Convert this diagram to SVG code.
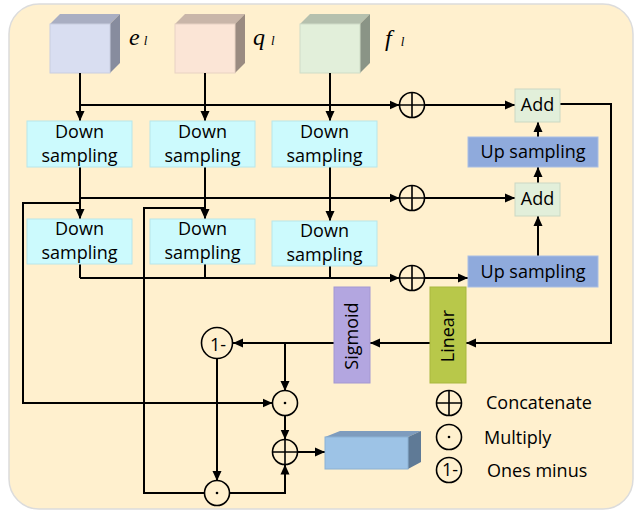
<svg xmlns="http://www.w3.org/2000/svg" width="636" height="512" viewBox="0 0 636 512">
<defs>
<marker id="ah" markerUnits="userSpaceOnUse" markerWidth="10" markerHeight="10" refX="10" refY="5" orient="auto">
<path d="M0,0.5 L10,5 L0,9.5 z" fill="#000"/>
</marker>
<style>
.ln{fill:none;stroke:#000;stroke-width:2}
.ar{fill:none;stroke:#000;stroke-width:2;marker-end:url(#ah)}
.ds{fill:#CCFAFD;stroke:#B8E6EA;stroke-width:1}
.up{fill:#8FAADC;stroke:#A9BEE3;stroke-width:1}
.add{fill:#E2EFDA;stroke:#CBD8C3;stroke-width:1}
.t{font-family:"Open Sans","Liberation Sans",sans-serif;font-size:18px;fill:#000;text-anchor:middle}
.tl{font-family:"Open Sans","Liberation Sans",sans-serif;font-size:18px;fill:#000}
.op{fill:none;stroke:#000;stroke-width:1.6}
.v{font-family:"Liberation Serif",serif;font-style:italic;fill:#000}
</style>
</defs>
<rect x="9" y="4" width="624" height="505" rx="30" fill="#FFF0CE" stroke="#DCDCDC" stroke-width="1.5"/>

<g id="cube-e">
<polygon points="50,24 60,14 120,14 110,24" fill="#A9AEC2"/>
<polygon points="110,24 120,14 120,63 110,73" fill="#878C9E"/>
<rect x="50" y="24" width="60" height="49" fill="#D9DEF1" stroke="#C9CEE0" stroke-width="1"/>
<text class="v" x="129" y="45" font-size="24">e<tspan dx="4" font-size="13">l</tspan></text>
</g>
<g id="cube-q">
<polygon points="175,24 185,14 245,14 235,24" fill="#C9B6A9"/>
<polygon points="235,24 245,14 245,63 235,73" fill="#9A8B81"/>
<rect x="175" y="24" width="60" height="49" fill="#FBE5D6" stroke="#E8D2C3" stroke-width="1"/>
<text class="v" x="253" y="45" font-size="24">q<tspan dx="6" font-size="13">l</tspan></text>
</g>
<g id="cube-f">
<polygon points="300,24 310,14 370,14 360,24" fill="#B5C0AE"/>
<polygon points="360,24 370,14 370,63 360,73" fill="#8A9486"/>
<rect x="300" y="24" width="60" height="49" fill="#E2EFDA" stroke="#CFDCC7" stroke-width="1"/>
<text class="v" x="385" y="46" font-size="24">f<tspan dx="9" font-size="13">l</tspan></text>
</g>

<g id="connectors">
<line class="ar" x1="80" y1="73" x2="80" y2="121"/>
<line class="ar" x1="205" y1="73" x2="205" y2="121"/>
<line class="ar" x1="330" y1="73" x2="330" y2="121"/>
<line class="ar" x1="80" y1="105" x2="399.5" y2="105"/>
<line class="ar" x1="424.5" y1="105" x2="515" y2="105"/>

<line class="ar" x1="80" y1="167" x2="80" y2="219"/>
<line class="ar" x1="205" y1="167" x2="205" y2="219"/>
<line class="ar" x1="330" y1="167" x2="330" y2="221"/>
<line class="ar" x1="80" y1="198" x2="399.5" y2="198"/>
<line class="ar" x1="424.5" y1="198" x2="515" y2="198"/>
<polyline class="ar" points="80,203 23,203 23,403 272.5,403"/>
<polyline class="ln" points="205,208 144,208 144,493 205,493"/>

<polyline class="ln" points="80,264 80,278"/>
<polyline class="ln" points="205,264 205,278"/>
<polyline class="ln" points="330,266 330,278"/>
<line class="ar" x1="80" y1="278" x2="399.5" y2="278"/>
<line class="ar" x1="424.5" y1="278" x2="468" y2="278"/>

<line class="ar" x1="538" y1="256" x2="538" y2="216"/>
<line class="ar" x1="538" y1="183" x2="538" y2="167"/>
<line class="ar" x1="538" y1="137" x2="538" y2="122"/>

<polyline class="ar" points="560,104 611,104 611,343 466,343"/>
<line class="ar" x1="430" y1="343" x2="370" y2="343"/>
<line class="ar" x1="334" y1="343" x2="233" y2="343"/>
<line class="ar" x1="285" y1="343" x2="285" y2="391"/>
<line class="ar" x1="285" y1="415" x2="285" y2="439.5"/>
<line class="ar" x1="217" y1="359" x2="217" y2="481"/>
<polyline class="ar" points="229,493 285,493 285,464.5"/>
<line class="ar" x1="297.5" y1="452" x2="325" y2="452"/>
</g>

<g id="ds1-1"><rect class="ds" x="27" y="121" width="105" height="46"/><text class="t" x="79.5" y="138">Down</text><text class="t" x="79.5" y="162">sampling</text></g>
<g id="ds1-2"><rect class="ds" x="150" y="121" width="105" height="46"/><text class="t" x="202.5" y="138">Down</text><text class="t" x="202.5" y="162">sampling</text></g>
<g id="ds1-3"><rect class="ds" x="272" y="121" width="105" height="46"/><text class="t" x="324.5" y="138">Down</text><text class="t" x="324.5" y="162">sampling</text></g>
<g id="ds2-1"><rect class="ds" x="27" y="219" width="105" height="45"/><text class="t" x="79.5" y="235">Down</text><text class="t" x="79.5" y="259">sampling</text></g>
<g id="ds2-2"><rect class="ds" x="150" y="219" width="105" height="45"/><text class="t" x="202.5" y="235">Down</text><text class="t" x="202.5" y="259">sampling</text></g>
<g id="ds2-3"><rect class="ds" x="272" y="221" width="105" height="45"/><text class="t" x="324.5" y="237">Down</text><text class="t" x="324.5" y="261">sampling</text></g>

<g id="add1"><rect class="add" x="515" y="89" width="45" height="33"/><text class="t" x="537.5" y="111">Add</text></g>
<g id="add2"><rect class="add" x="515" y="183" width="45" height="33"/><text class="t" x="537.5" y="205">Add</text></g>
<g id="up1"><rect class="up" x="468" y="137" width="130" height="30"/><text class="t" x="533" y="158">Up sampling</text></g>
<g id="up2"><rect class="up" x="468" y="256" width="130" height="31"/><text class="t" x="533" y="278">Up sampling</text></g>

<g id="cat1"><circle class="op" cx="412" cy="105" r="12.5"/><path class="op" d="M399.5,105 H424.5 M412,92.5 V117.5"/></g>
<g id="cat2"><circle class="op" cx="412" cy="198" r="12.5"/><path class="op" d="M399.5,198 H424.5 M412,185.5 V210.5"/></g>
<g id="cat3"><circle class="op" cx="412" cy="278" r="12.5"/><path class="op" d="M399.5,278 H424.5 M412,265.5 V290.5"/></g>

<g id="linear"><rect x="430" y="287" width="36" height="96" fill="#B8C84A" stroke="#A9B83F" stroke-width="1"/><text class="t" transform="translate(454,336) rotate(-90)">Linear</text></g>
<g id="sigmoid"><rect x="334" y="287" width="36" height="96" fill="#B3A6E0" stroke="#A498D2" stroke-width="1"/><text class="t" transform="translate(358,336) rotate(-90)">Sigmoid</text></g>

<g id="oneminus"><circle class="op" cx="217" cy="343" r="15.5" fill="#FFF0CE"/><text class="t" x="218" y="350.5" font-size="21">1-</text></g>
<g id="mul1"><circle class="op" cx="285" cy="403" r="12.5"/><circle cx="285" cy="403" r="1.3" fill="#000"/></g>
<g id="cat4"><circle class="op" cx="285" cy="452" r="12.5"/><path class="op" d="M272.5,452 H297.5 M285,439.5 V464.5"/></g>
<g id="mul2"><circle class="op" cx="217" cy="493" r="12.5"/><circle cx="217" cy="493" r="1.3" fill="#000"/></g>

<g id="out-cube">
<polygon points="325,437 340,431 421,431 408,437" fill="#7E9CBE"/>
<polygon points="408,437 421,431 421,462 408,469" fill="#5F7A96"/>
<rect x="325" y="437" width="83" height="32" fill="#9DC3E6" stroke="#8CB1D3" stroke-width="1"/>
</g>

<g id="legend">
<circle class="op" cx="449" cy="403" r="12.5"/><path class="op" d="M436.5,403 H461.5 M449,390.5 V415.5"/>
<text class="tl" x="486" y="409">Concatenate</text>
<circle class="op" cx="449" cy="437" r="12.5"/><circle cx="449" cy="437" r="1.3" fill="#000"/>
<text class="tl" x="484" y="444">Multiply</text>
<circle class="op" cx="449" cy="470" r="12.5"/><text class="t" x="450" y="476" font-size="17">1-</text>
<text class="tl" x="487" y="477">Ones minus</text>
</g>
</svg>
